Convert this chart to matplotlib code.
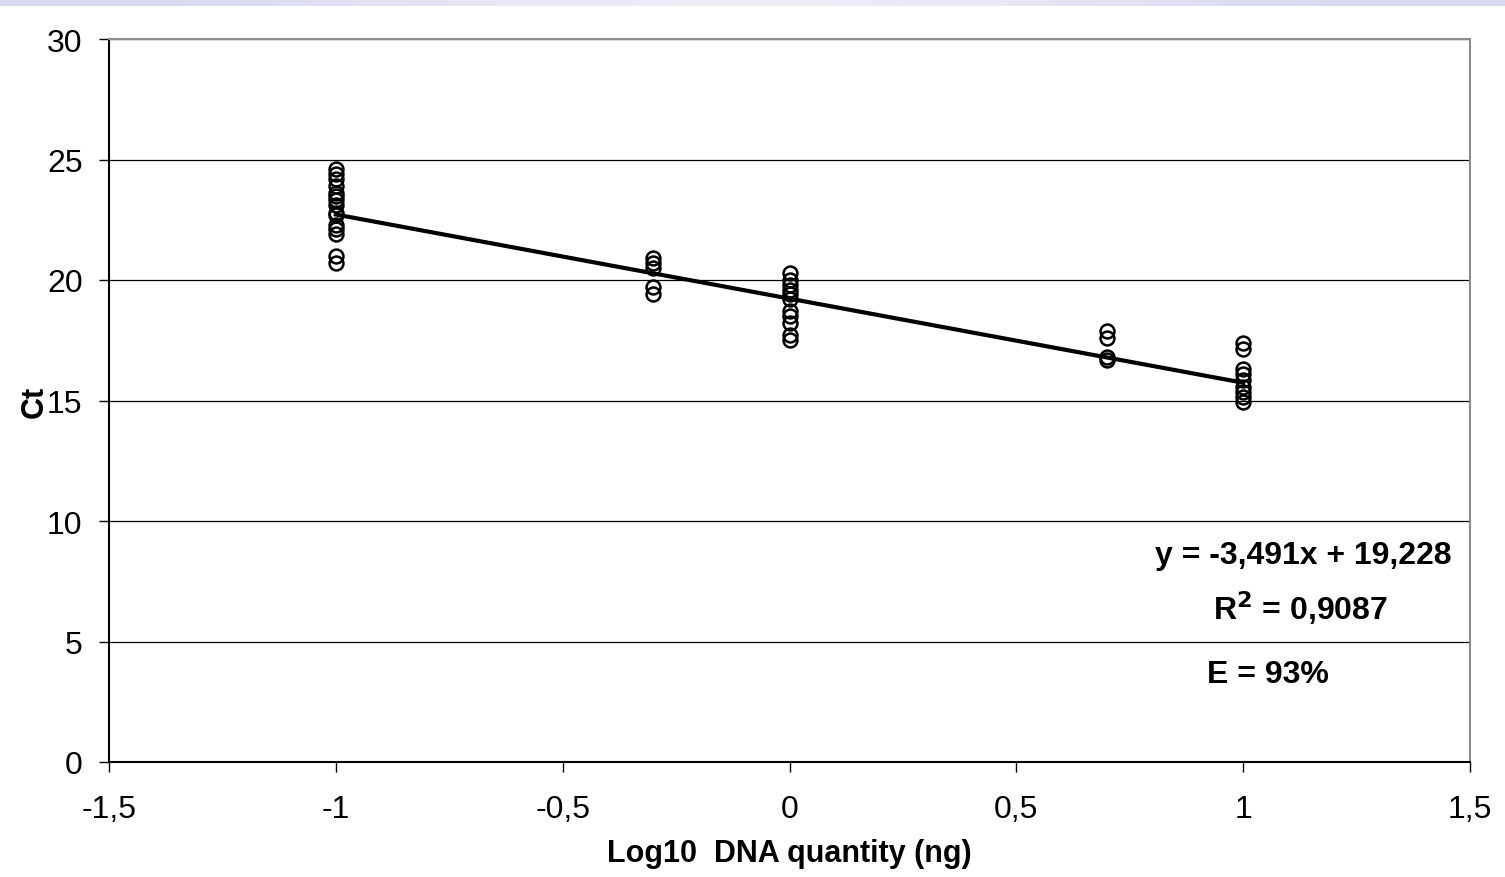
import numpy as np
import matplotlib.pyplot as plt
from matplotlib.colors import LinearSegmentedColormap

plt.rcParams['font.family'] = ['Liberation Sans', 'DejaVu Sans']

# Ct values, per log10 DNA quantity
log_qty = [-1.0, -0.3, 0.0, 0.7, 1.0]
ct_values = [
    [24.6, 24.4, 24.2, 23.9, 23.6, 23.5, 23.3, 23.1, 22.8, 22.7, 22.3, 22.1, 21.9, 21.0, 20.7],
    [20.9, 20.7, 20.5, 19.7, 19.4],
    [20.3, 20.0, 19.8, 19.6, 19.4, 19.2, 18.7, 18.5, 18.2, 17.7, 17.5],
    [17.9, 17.6, 16.8, 16.7],
    [17.4, 17.15, 16.3, 16.1, 15.85, 15.55, 15.35, 15.15, 14.95],
]
slope = -3.491
intercept = 19.228
fit_x = [-1.0, 1.0]
xticks = [-1.5, -1, -0.5, 0, 0.5, 1, 1.5]
xtick_labels = ['-1,5', '-1', '-0,5', '0', '0,5', '1', '1,5']
yticks = [0, 5, 10, 15, 20, 25, 30]

fig = plt.figure(figsize=(15.05, 8.78), dpi=100)

# light banner strip at the top
band = fig.add_axes([0, 1 - 7 / 878, 1, 7 / 878])
grad = np.array([[0.0, 0.5, 1.0, 0.5, 0.0]])
band.imshow(grad, aspect='auto', interpolation='bicubic',
            cmap=LinearSegmentedColormap.from_list('b', ['#d8d8ee', '#f2f2fb']))
band.axis('off')

ax = fig.add_axes([109 / 1505, 1 - 763 / 878, (1470 - 109) / 1505, (763 - 40) / 878])

for x, ys in zip(log_qty, ct_values):
    ax.plot([x] * len(ys), ys, 'o', mfc='none', mec='black', ms=10, mew=1.8, zorder=3)

fit_y = [slope * v + intercept for v in fit_x]
ax.plot(fit_x, fit_y, color='black', lw=3, zorder=4)

ax.set_xlim(-1.5, 1.5)
ax.set_ylim(0, 30)
ax.set_xticks(xticks)
ax.set_xticklabels(xtick_labels)
ax.set_yticks(yticks)
ax.yaxis.grid(True, color='black', lw=0.9)
ax.set_axisbelow(True)
ax.tick_params(direction='out', length=7, width=1, labelsize=23)
ax.tick_params(axis='x', pad=16)
ax.tick_params(axis='y', pad=12)

ax.spines['left'].set_color('black')
ax.spines['bottom'].set_color('black')
ax.spines['top'].set_color('#8c8c8c')
ax.spines['right'].set_color('#8c8c8c')
for s in ax.spines.values():
    s.set_linewidth(1.5)

ax.set_xlabel('Log10  DNA quantity (ng)', fontsize=22, fontweight='bold', labelpad=10)
ax.set_ylabel('Ct', fontsize=22, fontweight='bold', labelpad=-2)

ax.text(1303 / 1505, 1 - 556 / 878, 'y = -3,491x + 19,228', transform=fig.transFigure,
        ha='center', va='center', fontsize=23, fontweight='bold')
ax.text(1300 / 1505, 1 - 608 / 878, r'R$^\mathbf{2}$ = 0,9087', transform=fig.transFigure,
        ha='center', va='center', fontsize=23, fontweight='bold')
ax.text(1268 / 1505, 1 - 675 / 878, 'E = 93%', transform=fig.transFigure,
        ha='center', va='center', fontsize=23, fontweight='bold')

fig.savefig('out.png', dpi=100)
